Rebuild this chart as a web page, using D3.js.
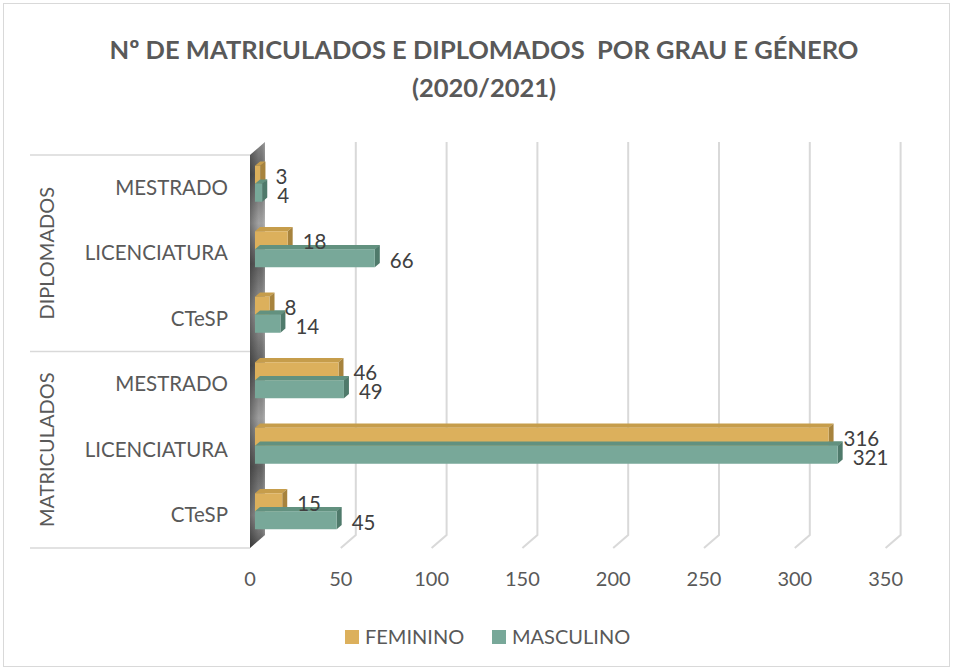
<!DOCTYPE html>
<html>
<head>
<meta charset="utf-8">
<script src="https://cdn.jsdelivr.net/npm/d3@7"></script>
<style>
  body { margin: 0; background: #fff; }
  text { font-family: Lato, "Open Sans", sans-serif; }
</style>
</head>
<body>
<div id="chart"></div>
<script>
// data
var groups = ["DIPLOMADOS", "MATRICULADOS"];
var degrees = ["MESTRADO", "LICENCIATURA", "CTeSP"];
var feminino  = [3, 18, 8, 46, 316, 15];   // top to bottom
var masculino = [4, 66, 14, 49, 321, 45];
var ticks = [0, 50, 100, 150, 200, 250, 300, 350];
var seriesNames = ["FEMININO", "MASCULINO"];

var W = 953, H = 670;
var txtColor = "#595959";
var femColor  = {front: "#dcb05c", top: "#c69d4b", side: "#a7833d"};
var mascColor = {front: "#78a899", top: "#62917f", side: "#4f7a6b"};

// 3d box of the plot
var front = {left: 250, top: 155, bottom: 548};
var depth = {dx: 15, dy: -13};

var rows = [];
groups.forEach(function(g) {
  degrees.forEach(function(d) { rows.push(g + "|" + d); });
});

var xFront = d3.scaleLinear().domain([0, 350]).range([250, 885.6]);
var xBack  = d3.scaleLinear().domain([0, 350]).range([265, 900.6]);
var xBar   = d3.scaleLinear().domain([0, 350]).range([255, 890.3]);
var y = d3.scaleBand().domain(rows).range([front.top, front.bottom]);

var svg = d3.select("#chart").append("svg")
    .attr("width", W)
    .attr("height", H);

// chart border
svg.append("rect")
    .attr("x", 3.5).attr("y", 3.5)
    .attr("width", W - 7).attr("height", H - 7)
    .attr("fill", "#fff")
    .attr("stroke", "#d9d9d9");

// title
var title = svg.append("text")
    .attr("x", 484)
    .attr("text-anchor", "middle")
    .attr("font-weight", "bold")
    .attr("font-size", 25.5)
    .attr("fill", txtColor)
    .style("white-space", "pre");
title.append("tspan").attr("x", 484).attr("y", 59).text("Nº DE MATRICULADOS E DIPLOMADOS  POR GRAU E GÉNERO");
title.append("tspan").attr("x", 484).attr("y", 97).text("(2020/2021)");

var defs = svg.append("defs");
var wallGrad = defs.append("linearGradient").attr("id", "wall")
    .attr("x1", 0).attr("x2", 0).attr("y1", 0).attr("y2", 1);
[[0, "#8a8a8a"], [0.08, "#5e5e5e"], [0.2, "#a5a5a5"], [0.3, "#626262"],
 [0.42, "#9a9a9a"], [0.55, "#5e5e5e"], [0.68, "#a0a0a0"], [0.8, "#606060"],
 [0.92, "#969696"], [1, "#505050"]].forEach(function(s) {
  wallGrad.append("stop").attr("offset", s[0]).attr("stop-color", s[1]);
});
var shade = defs.append("linearGradient").attr("id", "shade")
    .attr("x1", 0).attr("x2", 1).attr("y1", 0).attr("y2", 0);
shade.append("stop").attr("offset", 0).attr("stop-color", "#000").attr("stop-opacity", 0.3);
shade.append("stop").attr("offset", 0.6).attr("stop-color", "#000").attr("stop-opacity", 0);
shade.append("stop").attr("offset", 1).attr("stop-color", "#fff").attr("stop-opacity", 0.2);

// gridlines (back wall + floor edge)
svg.append("g").selectAll("path")
  .data(ticks.slice(1))
  .enter().append("path")
    .attr("d", function(d) {
      return "M" + xBack(d) + "," + (front.top + depth.dy) +
             "V" + (front.bottom + depth.dy) +
             "L" + xFront(d) + "," + front.bottom;
    })
    .attr("fill", "none")
    .attr("stroke", "#d9d9d9")
    .attr("stroke-width", 2);

// side wall
var wallPts = [[front.left, front.top], [front.left + depth.dx, front.top + depth.dy],
               [front.left + depth.dx, front.bottom + depth.dy], [front.left, front.bottom]];
svg.append("polygon").attr("points", wallPts.join(" ")).attr("fill", "url(#wall)");
svg.append("polygon").attr("points", wallPts.join(" ")).attr("fill", "url(#shade)");

// category axis lines
var catAxis = svg.append("g").attr("stroke", "#d9d9d9").attr("stroke-width", 1.5);
[front.top, y("MATRICULADOS|MESTRADO"), front.bottom].forEach(function(v) {
  catAxis.append("line").attr("x1", 30).attr("x2", front.left)
      .attr("y1", v).attr("y2", v);
});

svg.append("g").selectAll("text")
  .data(rows)
  .enter().append("text")
    .attr("x", 228)
    .attr("y", function(d) { return y(d) + y.bandwidth() / 2; })
    .attr("dy", "0.35em")
    .attr("text-anchor", "end")
    .attr("font-size", 20.5)
    .attr("fill", txtColor)
    .text(function(d) { return d.split("|")[1]; });

svg.append("g").selectAll("text")
  .data(groups)
  .enter().append("text")
    .attr("transform", function(g, i) {
      var cy = (y(g + "|MESTRADO") + y(g + "|CTeSP") + y.bandwidth()) / 2;
      return "translate(47," + cy + ") rotate(-90)";
    })
    .attr("dy", "0.35em")
    .attr("text-anchor", "middle")
    .attr("font-size", 20)
    .attr("fill", txtColor)
    .text(function(d) { return d; });

// bars
var barH = 18, bdx = 5, bdy = -4.3, lift = -4;

function box(g, v, yTop, c) {
  var x0 = xBar(0), x1 = xBar(v), y0 = yTop, y1 = yTop + barH;
  g.append("polygon")
      .attr("points", [[x0, y0], [x0 + bdx, y0 + bdy], [x1 + bdx, y0 + bdy], [x1, y0]].join(" "))
      .attr("fill", c.top);
  g.append("polygon")
      .attr("points", [[x1, y0], [x1 + bdx, y0 + bdy], [x1 + bdx, y1 + bdy], [x1, y1]].join(" "))
      .attr("fill", c.side);
  g.append("rect")
      .attr("x", x0).attr("y", y0)
      .attr("width", x1 - x0).attr("height", barH)
      .attr("fill", c.front);
}

var bars = svg.append("g");
rows.forEach(function(r, i) {
  var mid = y(r) + y.bandwidth() / 2 + lift;
  var g = bars.append("g");
  // top of lower bar first, it hides behind the upper one
  g.append("polygon")
      .attr("points", [[xBar(0), mid], [xBar(0) + bdx, mid + bdy],
                       [xBar(masculino[i]) + bdx, mid + bdy], [xBar(masculino[i]), mid]].join(" "))
      .attr("fill", mascColor.top);
  box(g, feminino[i], mid - barH, femColor);
  box(g, masculino[i], mid, mascColor);
});

// data labels
var labels = svg.append("g").attr("font-size", 20.5).attr("fill", "#404040");
rows.forEach(function(r, i) {
  var mid = y(r) + y.bandwidth() / 2 + lift;
  labels.append("text")
      .attr("x", xBar(feminino[i]) + 15)
      .attr("y", mid - barH / 2 + 2)
      .attr("dy", "0.35em")
      .text(feminino[i]);
  labels.append("text")
      .attr("x", xBar(masculino[i]) + 15)
      .attr("y", mid + barH / 2 + 3)
      .attr("dy", "0.35em")
      .text(masculino[i]);
});

// value axis labels
svg.append("g").selectAll("text")
  .data(ticks)
  .enter().append("text")
    .attr("x", function(d) { return xFront(d); })
    .attr("y", 579)
    .attr("dy", "0.35em")
    .attr("text-anchor", "middle")
    .attr("font-size", 20)
    .attr("fill", txtColor)
    .text(function(d) { return d; });

// legend
var legend = svg.append("g");
var legX = [345, 492];
seriesNames.forEach(function(s, i) {
  legend.append("rect")
      .attr("x", legX[i]).attr("y", 630)
      .attr("width", 14).attr("height", 14)
      .attr("fill", i === 0 ? femColor.front : mascColor.front);
  legend.append("text")
      .attr("x", legX[i] + 20).attr("y", 637)
      .attr("dy", "0.35em")
      .attr("font-size", 20)
      .attr("fill", txtColor)
      .text(s);
});
</script>
</body>
</html>
